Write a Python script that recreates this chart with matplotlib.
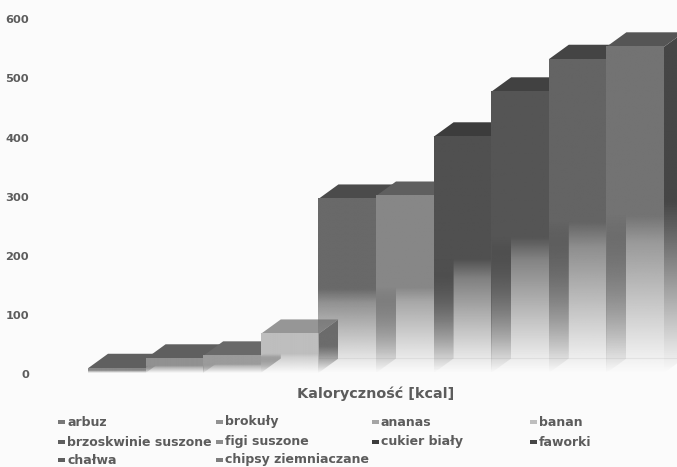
import numpy as np
import matplotlib
matplotlib.use('Agg')
from matplotlib import pyplot as plt
from matplotlib.patches import Polygon, Rectangle
from matplotlib.transforms import ScaledTranslation

# chart data
categories = ['arbuz', 'brokuły', 'ananas', 'banan', 'brzoskwinie suszone',
              'figi suszone', 'cukier biały', 'faworki', 'chałwa', 'chipsy ziemniaczane']
values = [8, 24, 29, 66, 294, 299, 399, 475, 530, 551]
yticks = [0, 100, 200, 300, 400, 500, 600]
xlabel = 'Kaloryczność [kcal]'

# greys of each bar
front_grey = [135, 145, 155, 190, 105, 135, 80, 85, 100, 115]
top_grey = [95, 95, 105, 150, 75, 95, 60, 65, 68, 85]
side_grey = [75, 80, 85, 110, 60, 75, 50, 55, 60, 70]
legend_grey = [120, 145, 165, 190, 95, 140, 60, 70, 95, 125]

W, H = 677, 467
BG = '#fbfbfb'
TEXT = '#5c5c5c'
DEPTH_X = 0.347  # in bar widths
DEPTH_Y = 24.5   # in kcal


def fade(g, t, start, low):
    # vertical RGBA strip, t is 0 at the floor and 1 at the top of the bar
    a = np.where(t > start + 0.04, 1.0,
                 np.where(t > start - 0.04, low + (1 - low) * (t - start + 0.04) / 0.08,
                          low * np.clip(t / (start - 0.04), 0, 1)))
    img = np.ones((len(t), 1, 4))
    img[:, :, :3] = g / 255
    img[:, 0, 3] = a
    return img[::-1]


fig = plt.figure(figsize=(W / 100, H / 100), dpi=100, facecolor=BG)
ax = fig.add_axes([40 / W, (H - 385) / H, (W - 40) / W, 385 / H], facecolor=BG)

# floor line on the back wall, only seen behind the tall bars
ax.hlines(DEPTH_Y, 4, len(values) + 1, color='#ececec', lw=0.8, zorder=1)

t = np.linspace(0, 1, 300)

# sides and tops first, the fronts are see through near the floor
for i, v in enumerate(values):
    x0, x1 = i, i + 1
    poly = Polygon([(x1, 0), (x1 + DEPTH_X, DEPTH_Y), (x1 + DEPTH_X, v + DEPTH_Y), (x1, v)],
                   closed=True, transform=ax.transData)
    im = ax.imshow(fade(side_grey[i], t, 0.46, 0.85), extent=(x1, x1 + DEPTH_X, 0, v + DEPTH_Y),
                   aspect='auto', interpolation='bilinear', zorder=3)
    im.set_clip_path(poly)
    c = top_grey[i] / 255
    ax.add_patch(Polygon([(x0, v), (x1, v), (x1 + DEPTH_X, v + DEPTH_Y), (x0 + DEPTH_X, v + DEPTH_Y)],
                         closed=True, facecolor=(c, c, c), edgecolor='none', zorder=4 + i * 0.01))

for i, v in enumerate(values):
    ax.imshow(fade(front_grey[i], t, 0.44, 0.72), extent=(i, i + 1, 0, v),
              aspect='auto', interpolation='bilinear', zorder=5)

ax.set_xlim(-48 / 57.6, (W - 88) / 57.6)
ax.set_ylim(-12 / 0.592, 373 / 0.592)
ax.set_xticks([])
ax.set_yticks(yticks)
ax.set_yticklabels([str(y) for y in yticks], fontsize=8.2, fontweight='bold', color=TEXT)
ax.tick_params(axis='y', length=0, pad=8)
shift = ScaledTranslation(0, -1.5 / 100, fig.dpi_scale_trans)
for lab in ax.get_yticklabels():
    lab.set_transform(lab.get_transform() + shift)
for s in ax.spines.values():
    s.set_visible(False)

fig.text(376 / W, 1 - 394 / H, xlabel, fontsize=10.4, fontweight='bold', color=TEXT,
         ha='center', va='center')

# legend, 4 columns, last row sits right at the picture edge
col_x = [58, 216, 372, 530]
row_y = [422, 442, 460]
for i, name in enumerate(categories):
    px = col_x[i % 4]
    py = row_y[i // 4]
    c = legend_grey[i] / 255
    fig.add_artist(Rectangle((px / W, 1 - (py + 2) / H), 7 / W, 4 / H, transform=fig.transFigure,
                             facecolor=(c, c, c), edgecolor='none'))
    fig.text((px + 9) / W, 1 - py / H, name, fontsize=9, fontweight='bold', color=TEXT,
             ha='left', va='center')

plt.savefig('out.png', dpi=100, facecolor=BG)
plt.close()
